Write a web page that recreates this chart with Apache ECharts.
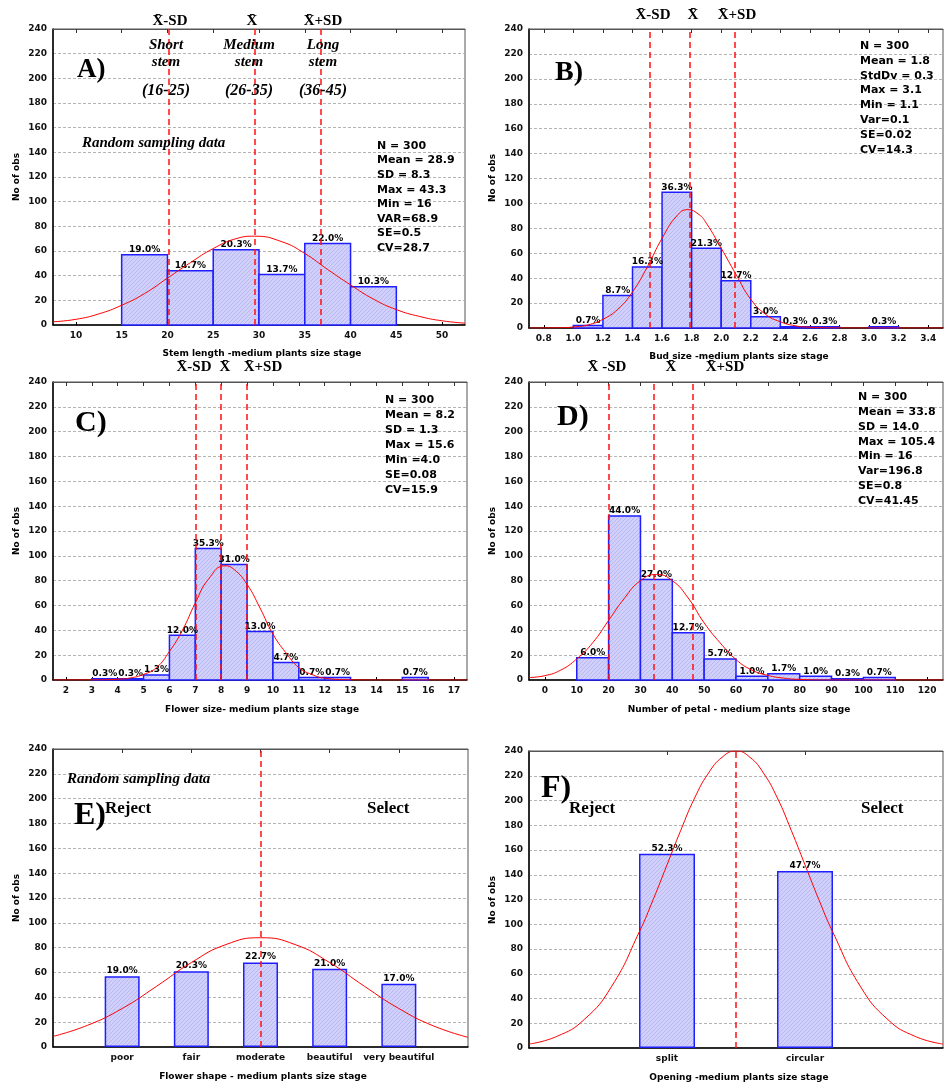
<!DOCTYPE html>
<html><head><meta charset="utf-8">
<script src="https://cdn.jsdelivr.net/npm/echarts@6/dist/echarts.min.js"></script>
<style>html,body{margin:0;padding:0;background:#fff}#c{width:945px;height:1090px}</style>
</head><body><div id="c"></div>
<script>
// ---------- DATA ----------
// Panel A: stem length
const aTicks = [10,15,20,25,30,35,40,45,50];
const aBinStart = [15,20,25,30,35,40];
const aBinWidth = 5;
const aCounts = [57,44,61,41,66,31];
const aPct = [19.0,14.7,20.3,13.7,22.0,10.3];
const aLines = [20.1,29.5,36.7];
const aCurveX = [7.5,10,12.5,15,17.5,20,22.5,25,27.5,29.5,32.5,35,37.5,40,42.5,45,47.5,50,52.5];
const aCurveY = [2.6,4.6,9,16,25.5,38,50.5,62,70,72,67.5,58,45,32.5,21,12.5,7,3.4,1.5];
const aStats = ['N = 300','Mean = 28.9','SD = 8.3','Max = 43.3','Min = 16','VAR=68.9','SE=0.5','CV=28.7'];

// Panel B: bud size
const bTicks = [0.8,1.0,1.2,1.4,1.6,1.8,2.0,2.2,2.4,2.6,2.8,3.0,3.2,3.4];
const bBinStart = [1.0,1.2,1.4,1.6,1.8,2.0,2.2,2.4,2.6,3.0];
const bBinWidth = 0.2;
const bCounts = [2,26,49,109,64,38,9,1,1,1];
const bPct = [0.7,8.7,16.3,36.3,21.3,12.7,3.0,0.3,0.3,0.3];
const bLines = [1.52,1.79,2.09];
const bCurveX = [0.7,0.9,1.0,1.1,1.2,1.3,1.4,1.5,1.6,1.7,1.775,1.85,1.9,2.0,2.1,2.2,2.3,2.4,2.5,2.6,2.8,3.0,3.5];
const bCurveY = [0,0.2,0.8,2.5,7,15,29,49,72,90,95,91,84,64,43,23,11,5,1.8,0.6,0.1,0,0];
const bStats = ['N = 300','Mean = 1.8','StdDv = 0.3','Max = 3.1','Min = 1.1','Var=0.1','SE=0.02','CV=14.3'];

// Panel C: flower size
const cTicks = [2,3,4,5,6,7,8,9,10,11,12,13,14,15,16,17];
const cBinStart = [3,4,5,6,7,8,9,10,11,12,15];
const cBinWidth = 1;
const cCounts = [1,1,4,36,106,93,39,14,2,2,2];
const cPct = [0.3,0.3,1.3,12.0,35.3,31.0,13.0,4.7,0.7,0.7,0.7];
const cLines = [7,8,9];
const cCurveX = [1.5,3,4,4.5,5,5.5,6,6.5,7,7.5,8.15,8.5,9,9.5,10,10.5,11,11.5,12,13,14,17.5];
const cCurveY = [0,0.1,0.6,1.7,4.5,10,23,40,62,81,92,89,77,58,37,22,10,4.5,1.5,0.2,0,0];
const cStats = ['N = 300','Mean = 8.2','SD = 1.3','Max = 15.6','Min =4.0','SE=0.08','CV=15.9'];

// Panel D: number of petal
const dTicks = [0,10,20,30,40,50,60,70,80,90,100,110,120];
const dBinStart = [10,20,30,40,50,60,70,80,90,100];
const dBinWidth = 10;
const dCounts = [18,132,81,38,17,3,5,3,1,2];
const dPct = [6.0,44.0,27.0,12.7,5.7,1.0,1.7,1.0,0.3,0.7];
const dLines = [20.1,34.2,46.4];
const dCurveX = [-5,0,5,10,15,20,25,30,35,40,45,50,55,60,65,70,75,80,90,125];
const dCurveY = [2,3.5,8,17,30,48,66,80,85,80,66,46,30,16.5,8,3.7,1.5,0.5,0,0];
const dStats = ['N = 300','Mean = 33.8','SD = 14.0','Max = 105.4','Min = 16','Var=196.8','SE=0.8','CV=41.45'];

// Panel E: flower shape
const eCats = ['poor','fair','moderate','beautiful','very beautiful'];
const eCounts = [57,61,68,63,51];
const ePct = [19.0,20.3,22.7,21.0,17.0];
const eLines = [3];
const eCurveX = [0,0.5,1,1.5,2,2.5,3,3.5,4,4.5,5,5.5,6];
const eCurveY = [8.5,17.5,31,49,68,82.5,88,82.5,68,49,31,17,7.8];

// Panel F: opening
const fCats = ['split','circular'];
const fCounts = [157,143];
const fPct = [52.3,47.7];
const fLines = [1.5];
const fCurveX = [0,0.2,0.4,0.6,0.8,0.9,1.0,1.1,1.2,1.3,1.4,1.5,1.6,1.7,1.8,1.9,2.0,2.1,2.2,2.4,2.6,2.8,3.0];
const fCurveY = [3.2,9.3,23,50,94,120,148,176,202,222,235,240,235,222,202,176,148,120,94,50,23,9.3,3.2];

const yTicksMax = 240, yTickStep = 20;

// ---------- STYLE ----------
const SANS = "'DejaVu Sans', sans-serif";
const BAR_STROKE = '#1e1eff';

function hatchCanvas() {
  const c = document.createElement('canvas');
  c.width = 4; c.height = 4;
  const g = c.getContext('2d');
  g.fillStyle = '#d0d0fa'; g.fillRect(0,0,4,4);
  g.strokeStyle = '#b8b8f2'; g.lineWidth = 1;
  g.beginPath();
  g.moveTo(-1,1); g.lineTo(1,-1);
  g.moveTo(0,4); g.lineTo(4,0);
  g.moveTo(3,5); g.lineTo(5,3);
  g.stroke();
  return c;
}
const HATCH = { image: hatchCanvas(), repeat: 'repeat' };

const grids = [
  {left:53, top:29, width:412, height:296},
  {left:529, top:29, width:414, height:299},
  {left:53, top:382, width:414, height:298},
  {left:529, top:382, width:414, height:298},
  {left:53, top:749, width:415, height:298},
  {left:529, top:751, width:414, height:297}
];

const panels = [
  {kind:'hist', min:7.5, max:52.5, ticks:aTicks, dec:0, starts:aBinStart, bw:aBinWidth, counts:aCounts, pct:aPct, lines:aLines, cx:aCurveX, cy:aCurveY},
  {kind:'hist', min:0.7, max:3.5, ticks:bTicks, dec:1, starts:bBinStart, bw:bBinWidth, counts:bCounts, pct:bPct, lines:bLines, cx:bCurveX, cy:bCurveY},
  {kind:'hist', min:1.5, max:17.5, ticks:cTicks, dec:0, starts:cBinStart, bw:cBinWidth, counts:cCounts, pct:cPct, lines:cLines, cx:cCurveX, cy:cCurveY},
  {kind:'hist', min:-5, max:125, ticks:dTicks, dec:0, starts:dBinStart, bw:dBinWidth, counts:dCounts, pct:dPct, lines:dLines, cx:dCurveX, cy:dCurveY},
  {kind:'cat', cats:eCats, counts:eCounts, pct:ePct, lines:eLines, cx:eCurveX, cy:eCurveY, barWidth:35},
  {kind:'cat', cats:fCats, counts:fCounts, pct:fPct, lines:fLines, cx:fCurveX, cy:fCurveY, barWidth:56}
];

const xAxes = [], yAxes = [], series = [];
const labelStyle = {color:'#111', fontSize:9, fontWeight:'bold', fontFamily:SANS};

panels.forEach((p, i) => {
  let min, max, ticks, fmt;
  if (p.kind === 'hist') {
    min = p.min; max = p.max; ticks = p.ticks;
    fmt = v => Number(v).toFixed(p.dec);
  } else {
    min = 0; max = p.cats.length + 1;
    ticks = p.cats.map((c, k) => k + 1);
    fmt = v => p.cats[Math.round(v) - 1] || '';
  }
  xAxes.push({
    gridIndex:i, type:'value', min, max, position:'bottom',
    axisLine:{show:true, onZero:false, lineStyle:{color:'#000', width:1.5}},
    axisTick:{show:true, inside:true, length:3, customValues:ticks, lineStyle:{color:'#000'}},
    axisLabel:Object.assign({customValues:ticks, formatter:fmt, margin:6, showMinLabel:true, showMaxLabel:true}, labelStyle),
    splitLine:{show:false}
  });
  xAxes.push({
    gridIndex:i, type:'value', min, max, position:'top',
    axisLine:{show:true, onZero:false, lineStyle:{color:'#555', width:1}},
    axisTick:{show:true, inside:true, length:4, customValues:ticks, lineStyle:{color:'#333'}},
    axisLabel:{show:false}, splitLine:{show:false}
  });
  yAxes.push({
    gridIndex:i, type:'value', min:0, max:yTicksMax, interval:yTickStep, position:'left',
    axisLine:{show:true, onZero:false, lineStyle:{color:'#000', width:1.5}},
    axisTick:{show:false},
    axisLabel:Object.assign({margin:6}, labelStyle),
    splitLine:{show:true, lineStyle:{color:'#b4b4b4', width:1, type:[3,2]}}
  });
  const xi = 2 * i;
  if (p.kind === 'hist') {
    const data = p.starts.map((s, k) => [s, s + p.bw, p.counts[k]]);
    series.push({
      type:'custom', xAxisIndex:xi, yAxisIndex:i, z:2, data,
      encode:{x:[0,1], y:2},
      renderItem:(params, api) => {
        const x0 = api.value(0), x1 = api.value(1), y = api.value(2);
        const a = api.coord([x0, y]), b = api.coord([x1, 0]);
        return {type:'group', children:[
          {type:'rect', shape:{x:a[0], y:a[1], width:b[0]-a[0], height:b[1]-a[1]},
           style:{fill:HATCH, stroke:BAR_STROKE, lineWidth:1.5}},
          {type:'text', z2:10, style:{text:p.pct[params.dataIndex].toFixed(1) + '%', x:(a[0]+b[0])/2, y:a[1]-0.5,
            align:'center', verticalAlign:'bottom', font:"bold 9px 'DejaVu Sans'", fill:'#000'}}
        ]};
      }
    });
  } else {
    series.push({
      type:'bar', xAxisIndex:xi, yAxisIndex:i, z:2, barWidth:p.barWidth,
      data:p.counts.map((c, k) => [k + 1, c]),
      itemStyle:{color:HATCH, borderColor:BAR_STROKE, borderWidth:1.5},
      label:{show:true, position:'top', distance:1, formatter:q => p.pct[q.dataIndex].toFixed(1) + '%',
        color:'#000', fontSize:9, fontWeight:'bold', fontFamily:SANS}
    });
  }
  series.push({
    type:'line', xAxisIndex:xi, yAxisIndex:i, z:4, smooth:0.5,
    showSymbol:false, symbol:'none', clip:true, silent:true,
    data:p.cx.map((x, k) => [x, p.cy[k]]),
    lineStyle:{color:'#ff0000', width:1},
    markLine:{silent:true, symbol:['none','none'], label:{show:false}, animation:false,
      lineStyle:{color:'#ff1010', type:[6,4], width:1.5},
      data:p.lines.map(v => ({xAxis:v}))}
  });
});

// ---------- TEXT ANNOTATIONS ----------
const g = [];
function t(x, y, text, font, extra) {
  const el = {type:'text', x, y, z:100, silent:true,
    style:Object.assign({text, font, fill:'#000', align:'center', verticalAlign:'middle'}, extra || {})};
  g.push(el); return el;
}
const XB = 'X\u0304';
const hdr = "bold 15px 'Liberation Serif'";
t(170,21,XB+'-SD',hdr); t(252,21,XB,hdr); t(323,21,XB+'+SD',hdr);
t(653,15,XB+'-SD',hdr); t(693,15,XB,hdr); t(737,15,XB+'+SD',hdr);
t(194,367,XB+'-SD',hdr); t(225,367,XB,hdr); t(263,367,XB+'+SD',hdr);
t(607,367,XB+' -SD',hdr); t(671,367,XB,hdr); t(725,367,XB+'+SD',hdr);
const it = "italic bold 15px 'Liberation Serif'";
const it16 = "italic bold 16px 'Liberation Serif'";
t(166,45,'Short',it); t(166,62,'stem',it); t(166,91,'(16-25)',it16);
t(249,45,'Medium',it); t(249,62,'stem',it); t(249,91,'(26-35)',it16);
t(323,45,'Long',it); t(323,62,'stem',it); t(323,91,'(36-45)',it16);
t(82,143,'Random sampling data',it,{align:'left'});
t(67,779,'Random sampling data',it,{align:'left'});
t(77,70,'A)',"bold 27px 'Liberation Serif'",{align:'left'});
t(555,73,'B)',"bold 28px 'Liberation Serif'",{align:'left'});
t(75,423,'C)',"bold 30px 'Liberation Serif'",{align:'left'});
t(557,417,'D)',"bold 30px 'Liberation Serif'",{align:'left'});
t(74,816,'E)',"bold 32px 'Liberation Serif'",{align:'left'});
t(541,789,'F)',"bold 32px 'Liberation Serif'",{align:'left'});
const rs = "bold 17px 'Liberation Serif'";
t(105,809,'Reject',rs,{align:'left'}); t(367,809,'Select',rs,{align:'left'});
t(569,809,'Reject',rs,{align:'left'}); t(861,809,'Select',rs,{align:'left'});
function stats(x, y0, lines, lh) {
  t(x, y0 - lh/2, lines.join('\n'), "bold 11px 'DejaVu Sans'", {align:'left', verticalAlign:'top', lineHeight:lh});
}
stats(377,146,aStats,14.6);
stats(860,46,bStats,14.85);
stats(385,400,cStats,15);
stats(858,397,dStats,14.9);
const at = "bold 9px 'DejaVu Sans'";
t(262,354,'Stem length -medium plants size stage',at);
t(739,357,'Bud size -medium plants size stage',at);
t(262,710,'Flower size- medium plants size stage',at);
t(739,710,'Number of petal - medium plants size stage',at);
t(263,1077,'Flower shape - medium plants size stage',at);
t(739,1078,'Opening -medium plants size stage',at);
[[17,177],[493,178],[17,531],[493,531],[17,898],[493,900]].forEach(([x,y]) => {
  const el = t(x, y, 'No of obs', at); el.rotation = Math.PI/2;
});

const chart = echarts.init(document.getElementById('c'), null, {renderer:'canvas'});
chart.setOption({
  animation:false,
  backgroundColor:'#ffffff',
  grid:grids.map(r => Object.assign({show:true, borderColor:'#555', borderWidth:1, backgroundColor:'transparent', containLabel:false}, r)),
  xAxis:xAxes, yAxis:yAxes, series, graphic:g
});
</script></body></html>
